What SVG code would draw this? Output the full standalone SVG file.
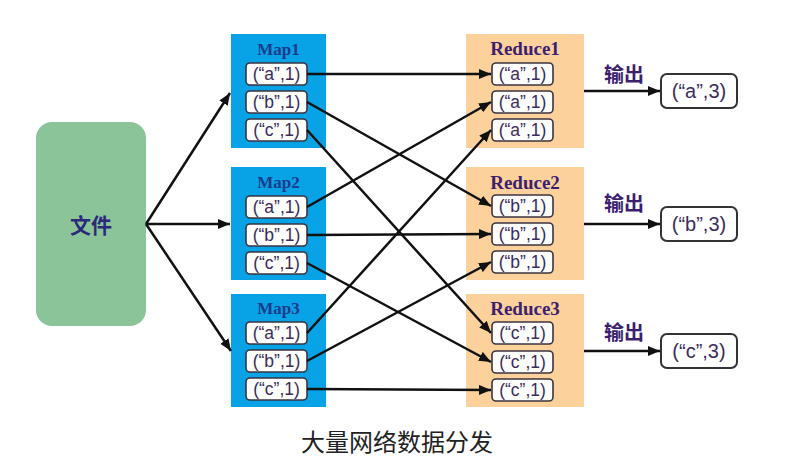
<svg xmlns="http://www.w3.org/2000/svg" width="785" height="463" viewBox="0 0 785 463">
<defs>
<marker id="arr" markerUnits="userSpaceOnUse" markerWidth="12" markerHeight="10" viewBox="0 0 12 10" refX="12" refY="5" orient="auto">
<path d="M0,0 L12,5 L0,10 z" fill="#111"/>
</marker>
</defs>
<style>
.map{fill:#07a3e6}
.red{fill:#fcd19b}
.item{fill:#fdfdfb;stroke:#3a3340;stroke-width:1.6}
.it{font-family:"Liberation Sans",Arial,sans-serif;font-size:17.5px;fill:#3a2d5c;text-anchor:middle;dominant-baseline:central}
.mt{font-family:"Liberation Serif","Times New Roman",serif;font-weight:bold;font-size:17px;fill:#1b3a8c;text-anchor:middle;dominant-baseline:central}
.rt{font-family:"Liberation Serif","Times New Roman",serif;font-weight:bold;font-size:19px;fill:#3c1f6e;text-anchor:middle;dominant-baseline:central}
.out{fill:#fff;stroke:#333;stroke-width:2}
.ot{font-family:"Liberation Sans",Arial,sans-serif;font-size:20px;fill:#3a2d5c;text-anchor:middle;dominant-baseline:central}
.lbl{font-family:"Noto Sans CJK SC",sans-serif;font-weight:bold;font-size:20px;fill:#3c1f6e;text-anchor:middle;dominant-baseline:central}
.cn{stroke:#111;stroke-width:2.5;fill:none;marker-end:url(#arr)}
</style>
<rect width="785" height="463" fill="#fff"/>

<g id="file">
<rect x="36" y="122" width="110" height="204" rx="16" fill="#8cc49a"/>
<text x="91" y="224" font-family="'Noto Sans CJK SC',sans-serif" font-weight="bold" font-size="21" fill="#2a2a78" text-anchor="middle" dominant-baseline="central">文件</text>
</g>

<g id="map1">
<rect class="map" x="231" y="34" width="95" height="114"/>
<text class="mt" x="278.5" y="49">Map1</text>
<rect class="item" x="246" y="63" width="61" height="22" rx="4"/><text class="it" x="276.5" y="74">(“a”,1)</text>
<rect class="item" x="246" y="91" width="61" height="22" rx="4"/><text class="it" x="276.5" y="102">(“b”,1)</text>
<rect class="item" x="246" y="119" width="61" height="22" rx="4"/><text class="it" x="276.5" y="130">(“c”,1)</text>
</g>
<g id="map2">
<rect class="map" x="231" y="167" width="95" height="113"/>
<text class="mt" x="278.5" y="182">Map2</text>
<rect class="item" x="246" y="196" width="61" height="22" rx="4"/><text class="it" x="276.5" y="207">(“a”,1)</text>
<rect class="item" x="246" y="224" width="61" height="22" rx="4"/><text class="it" x="276.5" y="235">(“b”,1)</text>
<rect class="item" x="246" y="252" width="61" height="22" rx="4"/><text class="it" x="276.5" y="263">(“c”,1)</text>
</g>
<g id="map3">
<rect class="map" x="231" y="294" width="95" height="113"/>
<text class="mt" x="278.5" y="308">Map3</text>
<rect class="item" x="246" y="322" width="61" height="22" rx="4"/><text class="it" x="276.5" y="333">(“a”,1)</text>
<rect class="item" x="246" y="350" width="61" height="22" rx="4"/><text class="it" x="276.5" y="361">(“b”,1)</text>
<rect class="item" x="246" y="378" width="61" height="22" rx="4"/><text class="it" x="276.5" y="389">(“c”,1)</text>
</g>

<g id="reduce1">
<rect class="red" x="466" y="34" width="118" height="114"/>
<text class="rt" x="525" y="48">Reduce1</text>
<rect class="item" x="492" y="63" width="61" height="22" rx="4"/><text class="it" x="522.5" y="74">(“a”,1)</text>
<rect class="item" x="492" y="91" width="61" height="22" rx="4"/><text class="it" x="522.5" y="102">(“a”,1)</text>
<rect class="item" x="492" y="119" width="61" height="22" rx="4"/><text class="it" x="522.5" y="130">(“a”,1)</text>
</g>
<g id="reduce2">
<rect class="red" x="466" y="167" width="118" height="113"/>
<text class="rt" x="525" y="182">Reduce2</text>
<rect class="item" x="492" y="195" width="61" height="22" rx="4"/><text class="it" x="522.5" y="206">(“b”,1)</text>
<rect class="item" x="492" y="223" width="61" height="22" rx="4"/><text class="it" x="522.5" y="234">(“b”,1)</text>
<rect class="item" x="492" y="251" width="61" height="22" rx="4"/><text class="it" x="522.5" y="262">(“b”,1)</text>
</g>
<g id="reduce3">
<rect class="red" x="466" y="294" width="118" height="113"/>
<text class="rt" x="525" y="308">Reduce3</text>
<rect class="item" x="492" y="322" width="61" height="22" rx="4"/><text class="it" x="522.5" y="333">(“c”,1)</text>
<rect class="item" x="492" y="351" width="61" height="22" rx="4"/><text class="it" x="522.5" y="362">(“c”,1)</text>
<rect class="item" x="492" y="379" width="61" height="22" rx="4"/><text class="it" x="522.5" y="390">(“c”,1)</text>
</g>

<g id="out1">
<rect class="out" x="661" y="74" width="76" height="34" rx="6"/>
<text class="ot" x="699" y="91">(“a”,3)</text>
</g>
<g id="out2">
<rect class="out" x="661" y="207" width="76" height="34" rx="6"/>
<text class="ot" x="699" y="224">(“b”,3)</text>
</g>
<g id="out3">
<rect class="out" x="661" y="334" width="76" height="34" rx="6"/>
<text class="ot" x="699" y="351">(“c”,3)</text>
</g>

<g id="connectors">
<line class="cn" x1="146" y1="224" x2="230" y2="93"/>
<line class="cn" x1="146" y1="224" x2="230" y2="224"/>
<line class="cn" x1="146" y1="224" x2="231" y2="351"/>

<line class="cn" x1="307" y1="74" x2="491" y2="74"/>
<line class="cn" x1="307" y1="102" x2="491" y2="206"/>
<line class="cn" x1="307" y1="130" x2="491" y2="333"/>
<line class="cn" x1="307" y1="207" x2="491" y2="102"/>
<line class="cn" x1="307" y1="235" x2="491" y2="234"/>
<line class="cn" x1="307" y1="263" x2="491" y2="362"/>
<line class="cn" x1="307" y1="333" x2="491" y2="130"/>
<line class="cn" x1="307" y1="361" x2="491" y2="262"/>
<line class="cn" x1="307" y1="389" x2="491" y2="390"/>

<line class="cn" x1="584" y1="91" x2="660" y2="91"/>
<line class="cn" x1="584" y1="224" x2="660" y2="224"/>
<line class="cn" x1="584" y1="351" x2="660" y2="351"/>
</g>

<text class="lbl" x="624" y="73">输出</text>
<text class="lbl" x="624" y="202">输出</text>
<text class="lbl" x="624" y="331">输出</text>

<text x="397" y="440" font-family="'Noto Sans CJK SC',sans-serif" font-size="24" fill="#222" text-anchor="middle" dominant-baseline="central">大量网络数据分发</text>
</svg>
